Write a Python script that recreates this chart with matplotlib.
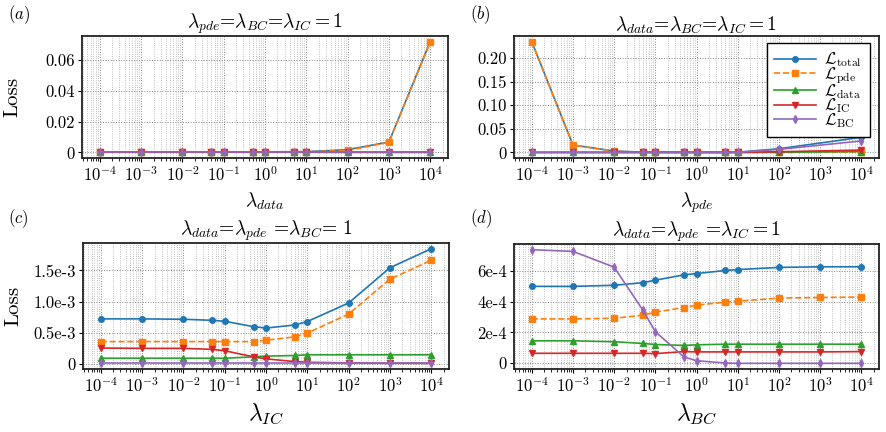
import numpy as np
import matplotlib
matplotlib.use('Agg')
import matplotlib.pyplot as plt
from matplotlib.ticker import LogLocator, NullFormatter

plt.rcParams['font.family'] = 'serif'
plt.rcParams['font.serif'] = ['cmr10']
plt.rcParams['mathtext.fontset'] = 'cm'
plt.rcParams['axes.unicode_minus'] = False

# lambda sweep values (same for every panel)
lam = [1e-4, 1e-3, 1e-2, 5e-2, 1e-1, 5e-1, 1, 5, 10, 100, 1000, 10000]

# (a) sweep lambda_data
a_total = [0.0004, 0.0004, 0.0004, 0.0004, 0.0004, 0.0004, 0.0004, 0.0005, 0.0005, 0.0018, 0.0068, 0.0721]
a_pde = [0.0003, 0.0003, 0.0003, 0.0003, 0.0003, 0.0003, 0.0003, 0.0004, 0.0004, 0.0013, 0.0066, 0.0718]
a_data = [0.0001, 0.0001, 0.0001, 0.0001, 0.0001, 0.0001, 0.0001, 0.0001, 0.0001, 0.0, 0.0, 0.0]
a_ic = [0.0001, 0.0001, 0.0001, 0.0001, 0.0001, 0.0001, 0.0001, 0.0001, 0.0001, 0.0001, 0.0001, 0.0001]
a_bc = [0.00005] * 12

# (b) sweep lambda_pde
b_total = [0.235, 0.0158, 0.0029, 0.0007, 0.0004, 0.0004, 0.0004, 0.0004, 0.0004, 0.0079, 0.020, 0.032]
b_pde = [0.2348, 0.0156, 0.0027, 0.0005, 0.0003, 0.0002, 0.0002, 0.0001, 0.0001, 0.0, 0.0005, 0.001]
b_data = [0.0001, 0.0001, 0.0001, 0.0001, 0.0001, 0.0001, 0.0001, 0.0001, 0.0001, 0.0003, 0.0012, 0.002]
b_ic = [0.0001, 0.0001, 0.0001, 0.0001, 0.0001, 0.0001, 0.0001, 0.0001, 0.0001, 0.0015, 0.0033, 0.005]
b_bc = [0.0001, 0.0001, 0.0001, 0.0001, 0.0001, 0.0001, 0.0001, 0.0001, 0.0002, 0.0065, 0.015, 0.0244]
# no sample at 1e3 in panel (b)
b_mask = [True, True, True, True, True, True, True, True, True, True, False, True]

# (c) sweep lambda_IC
c_total = [0.723e-3, 0.723e-3, 0.717e-3, 0.700e-3, 0.685e-3, 0.598e-3, 0.576e-3, 0.625e-3, 0.680e-3, 0.978e-3, 1.543e-3, 1.848e-3]
c_pde = [0.359e-3, 0.359e-3, 0.359e-3, 0.359e-3, 0.359e-3, 0.359e-3, 0.380e-3, 0.435e-3, 0.495e-3, 0.800e-3, 1.360e-3, 1.663e-3]
c_data = [0.092e-3, 0.092e-3, 0.092e-3, 0.092e-3, 0.092e-3, 0.114e-3, 0.125e-3, 0.136e-3, 0.147e-3, 0.147e-3, 0.147e-3, 0.147e-3]
c_ic = [0.255e-3, 0.250e-3, 0.250e-3, 0.234e-3, 0.212e-3, 0.114e-3, 0.082e-3, 0.038e-3, 0.027e-3, 0.016e-3, 0.011e-3, 0.011e-3]
c_bc = [0.016e-3] * 12

# (d) sweep lambda_BC
d_total = [4.99e-4, 4.99e-4, 5.06e-4, 5.23e-4, 5.39e-4, 5.74e-4, 5.82e-4, 6.02e-4, 6.08e-4, 6.22e-4, 6.26e-4, 6.26e-4]
d_pde = [2.88e-4, 2.88e-4, 2.92e-4, 3.12e-4, 3.32e-4, 3.62e-4, 3.77e-4, 3.97e-4, 4.03e-4, 4.23e-4, 4.27e-4, 4.30e-4]
d_data = [1.46e-4, 1.46e-4, 1.40e-4, 1.29e-4, 1.22e-4, 1.16e-4, 1.20e-4, 1.24e-4, 1.24e-4, 1.24e-4, 1.24e-4, 1.24e-4]
d_ic = [0.65e-4, 0.65e-4, 0.65e-4, 0.65e-4, 0.63e-4, 0.76e-4, 0.74e-4, 0.74e-4, 0.74e-4, 0.74e-4, 0.74e-4, 0.76e-4]
d_bc = [7.37e-4, 7.26e-4, 6.24e-4, 3.45e-4, 2.05e-4, 0.41e-4, 0.17e-4, 0.02e-4, 0.0, 0.0, 0.0, 0.0]

series_labels = [r'$\mathcal{L}_{\rm total}$', r'$\mathcal{L}_{\rm pde}$', r'$\mathcal{L}_{\rm data}$',
                 r'$\mathcal{L}_{\rm IC}$', r'$\mathcal{L}_{\rm BC}$']
colors = ['#1f77b4', '#ff7f0e', '#2ca02c', '#d62728', '#9467bd']
markers = ['o', 's', '^', 'v', 'd']
styles = ['-', '--', '-', '-', '-']

xtick_vals = [1e-4, 1e-3, 1e-2, 1e-1, 1, 10, 100, 1000, 10000]
xtick_labels = [r'$10^{-4}$', r'$10^{-3}$', r'$10^{-2}$', r'$10^{-1}$', r'$10^{0}$',
                r'$10^{1}$', r'$10^{2}$', r'$10^{3}$', r'$10^{4}$']

panels = [
    dict(pos=[82, 36, 366, 122], data=[a_total, a_pde, a_data, a_ic, a_bc],
         title=r'$\lambda_{pde}$=$\lambda_{BC}$=$\lambda_{IC}=1$', xlabel=r'$\lambda_{data}$', xfs=14,
         yticks=[0, 0.02, 0.04, 0.06], ylabels=['0', '0.02', '0.04', '0.06'], loss=True,
         tag='(a)', tagpos=(8, 15)),
    dict(pos=[514, 36, 365, 122], data=[b_total, b_pde, b_data, b_ic, b_bc],
         title=r'$\lambda_{data}$=$\lambda_{BC}$=$\lambda_{IC}=1$', xlabel=r'$\lambda_{pde}$', xfs=14,
         yticks=[0, 0.05, 0.10, 0.15, 0.20], ylabels=['0', '0.05', '0.10', '0.15', '0.20'], loss=False,
         tag='(b)', tagpos=(470, 15)),
    dict(pos=[83, 243, 366, 126], data=[c_total, c_pde, c_data, c_ic, c_bc],
         title=r'$\lambda_{data}$=$\lambda_{pde}$ =$\lambda_{BC}$= 1', xlabel=r'$\lambda_{IC}$', xfs=17,
         yticks=[0, 0.5e-3, 1.0e-3, 1.5e-3], ylabels=['0', '0.5e-3', '1.0e-3', '1.5e-3'], loss=True,
         tag='(c)', tagpos=(8, 219)),
    dict(pos=[514, 244, 365, 125], data=[d_total, d_pde, d_data, d_ic, d_bc],
         title=r'$\lambda_{data}$=$\lambda_{pde}$ =$\lambda_{IC}=1$', xlabel=r'$\lambda_{BC}$', xfs=17,
         yticks=[0, 2e-4, 4e-4, 6e-4], ylabels=['0', '2e-4', '4e-4', '6e-4'], loss=False,
         tag='(d)', tagpos=(470, 219)),
]

W, H = 886, 432
fig = plt.figure(figsize=(W / 100, H / 100), dpi=100)

for k, p in enumerate(panels):
    x0, y0, w, h = p['pos']
    ax = fig.add_axes([x0 / W, 1 - (y0 + h) / H, w / W, h / H])
    for i in range(5):
        xs = np.array(lam)
        ys = np.array(p['data'][i])
        if k == 1:
            xs, ys = xs[b_mask], ys[b_mask]
        ax.plot(xs, ys, linestyle=styles[i], marker=markers[i], color=colors[i],
                markersize=4, linewidth=1.2, label=series_labels[i])
    ax.set_xscale('log')
    ax.set_xlim(10 ** -4.43, 10 ** 4.43)
    ax.set_xticks(xtick_vals)
    ax.set_xticklabels(xtick_labels, fontsize=12)
    ax.xaxis.set_minor_locator(LogLocator(base=10, subs=np.arange(2, 10), numticks=20))
    ax.xaxis.set_minor_formatter(NullFormatter())
    ax.set_yticks(p['yticks'])
    ax.set_yticklabels(p['ylabels'], fontsize=12)
    ax.grid(which='major', linestyle=':', color='#888888', linewidth=0.7)
    ax.grid(which='minor', axis='x', linestyle=':', color='#aaaaaa', linewidth=0.6)
    ax.tick_params(which='major', length=3, width=0.8, pad=2)
    ax.tick_params(which='minor', length=2, width=0.6)
    for s in ax.spines.values():
        s.set_linewidth(1.3)
        s.set_color('#222222')
    ax.set_title(p['title'], fontsize=14, pad=4)
    ax.set_xlabel(p['xlabel'], fontsize=p['xfs'], labelpad=5)
    if p['loss']:
        ax.set_ylabel('Loss', fontsize=15)
        ax.yaxis.set_label_coords(-0.165, 0.5)
    if k == 1:
        ax.legend(loc='upper right', fontsize=12, fancybox=False, edgecolor='k',
                  framealpha=1, handlelength=2.5, borderpad=0.45, labelspacing=-0.25,
                  handletextpad=0.5, borderaxespad=0, bbox_to_anchor=(0.975, 0.943))
    fig.text(p['tagpos'][0] / W, 1 - p['tagpos'][1] / H, '$' + p['tag'] + '$',
             fontsize=12, ha='left', va='center')

fig.savefig('out.png', dpi=100)
